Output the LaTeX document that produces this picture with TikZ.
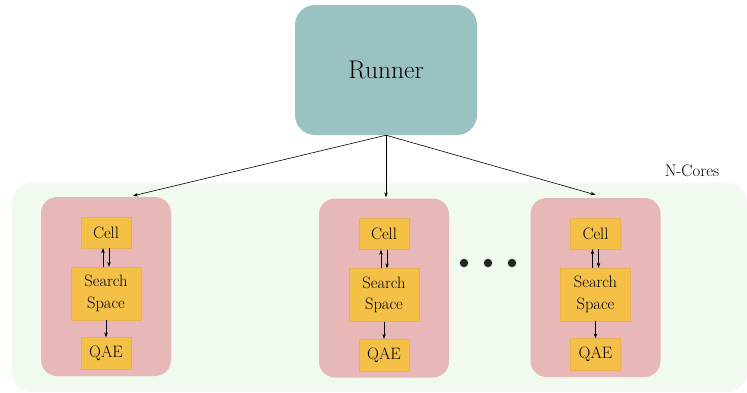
\documentclass[tikz,border=0pt]{standalone}
\usetikzlibrary{arrows.meta}
\definecolor{bggreen}{HTML}{F0FAEF}
\definecolor{pinkc}{HTML}{E8B8B9}
\definecolor{tealc}{HTML}{9BC2C2}
\definecolor{orangec}{HTML}{F4C046}
\definecolor{orangeb}{HTML}{E8B050}
\begin{document}
\begin{tikzpicture}[x=1pt,y=-1pt,
  corebox/.style={fill=pinkc, draw=none, rounded corners=16pt, minimum width=130pt, minimum height=179pt, inner sep=0pt},
  part/.style={fill=orangec, draw=orangeb, line width=0.4pt, inner sep=0pt, align=center, font=\fontsize{16.5}{21.5}\selectfont},
  conn/.style={-{Stealth[length=5pt,width=3.5pt]}, line width=0.6pt},
  dotc/.style={circle, fill=black!85, inner sep=0pt, minimum size=8.5pt}
]
\useasboundingbox (0,0) rectangle (747,392);
\fill[bggreen, rounded corners=20pt] (12,183) rectangle (747,392);
\node[fill=tealc, rounded corners=20pt, minimum width=182pt, minimum height=130pt, inner sep=0pt, font=\fontsize{25.5}{30}\selectfont] (runner) at (386,70) {Runner};
\node[font=\fontsize{16.8}{19}\selectfont] (ncores) at (692,171) {N-Cores};

\foreach \name/\cx/\cy in {a/106/286.5, b/384/288, c/595.5/287.5} {
  \node[corebox] (core\name) at (\cx,\cy) {};
  \node[part, minimum width=50pt, minimum height=31pt] (cell\name) at (\cx,\cy-54) {Cell};
  \node[part, minimum width=70pt, minimum height=53pt] (ss\name) at (\cx,\cy+7) {Search\\Space};
  \node[part, minimum width=50pt, minimum height=32pt] (qae\name) at (\cx,\cy+67) {QAE};
  \draw[conn] ([xshift=-3pt]ss\name.north) -- ([xshift=-3pt]cell\name.south);
  \draw[conn] ([xshift=3pt]cell\name.south) -- ([xshift=3pt]ss\name.north);
  \draw[conn] (ss\name.south) -- (qae\name.north);
}
\coordinate (ta) at ([xshift=27pt,yshift=1pt]corea.north);
\coordinate (tb) at ([xshift=2pt,yshift=1pt]coreb.north);
\coordinate (tc) at ([xshift=0pt,yshift=3pt]corec.north);
\draw[conn] (runner.south) -- (ta);
\draw[conn] (runner.south) -- (tb);
\draw[conn] (runner.south) -- (tc);

\node[dotc] (d1) at (464,263) {};
\node[dotc] (d2) at (488,263) {};
\node[dotc] (d3) at (512,263) {};
\end{tikzpicture}
\end{document}
